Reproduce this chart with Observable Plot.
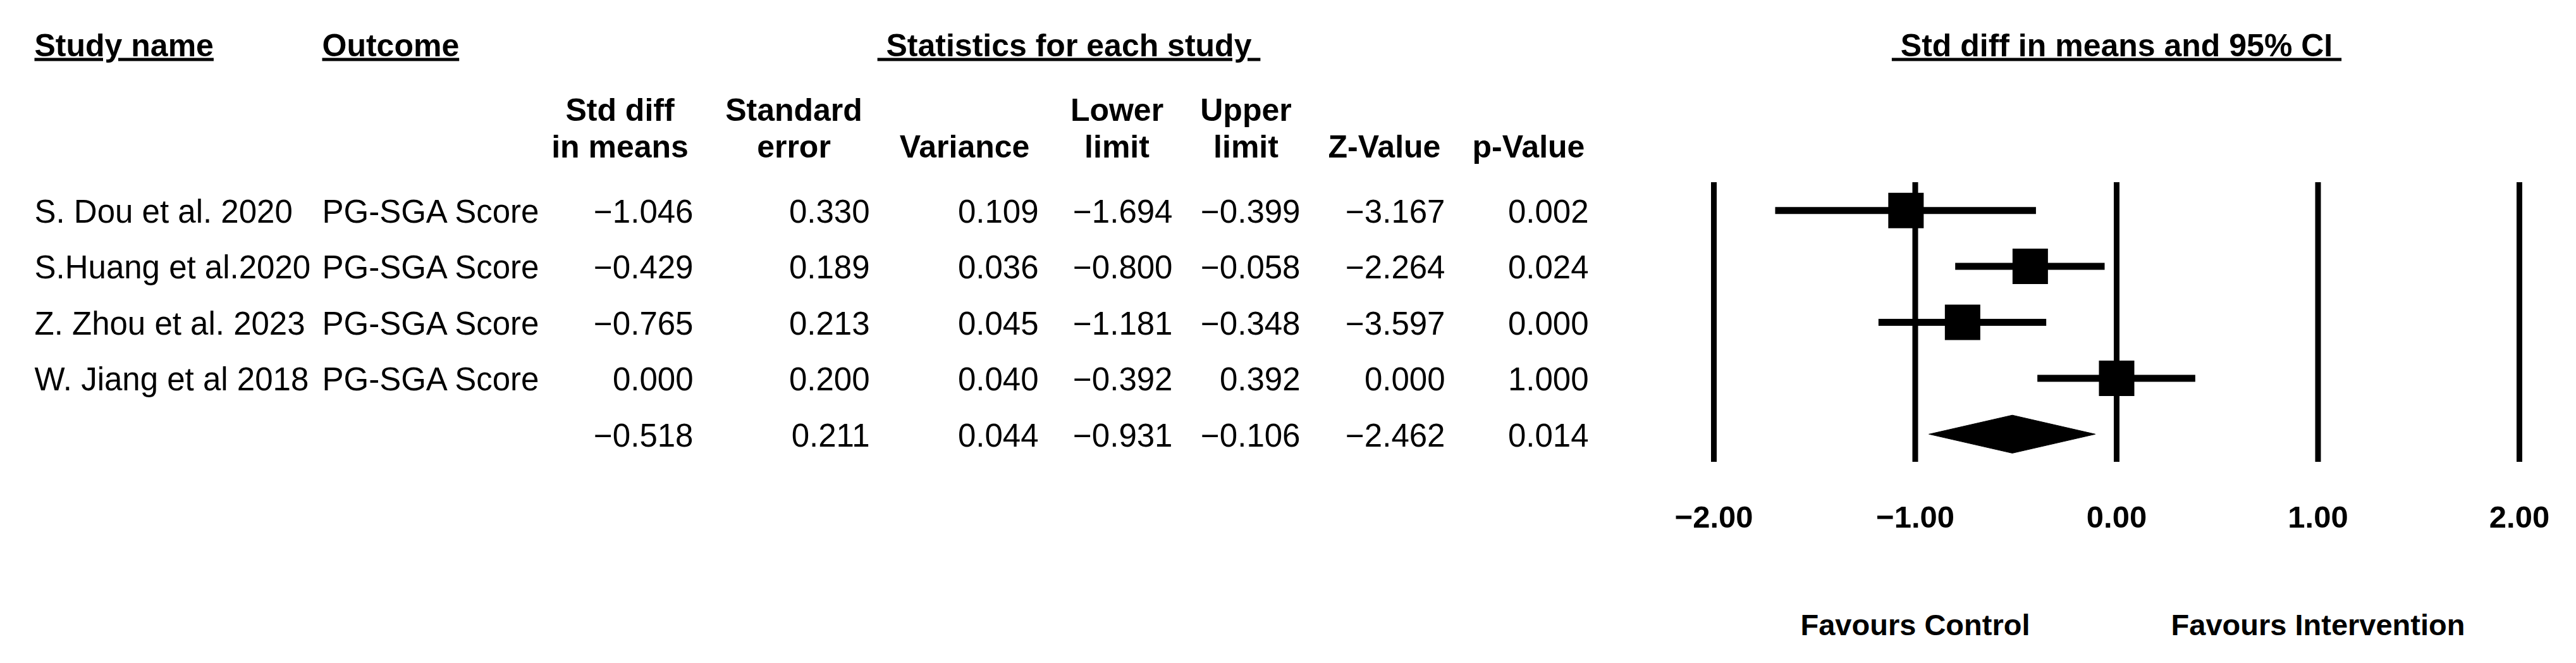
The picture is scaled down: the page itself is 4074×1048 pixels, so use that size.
<!DOCTYPE html>
<html>
<head>
<meta charset="utf-8">
<script src="https://cdn.jsdelivr.net/npm/d3@7"></script>
<script src="https://cdn.jsdelivr.net/npm/@observablehq/plot@0.6"></script>
<style>
  html, body { margin: 0; padding: 0; background: #ffffff; overflow: hidden; }
  #chart { width: 4074px; height: 1048px; }
</style>
</head>
<body>
<div id="chart"></div>
<script>
// ---------------- data ----------------
const studies  = ["S. Dou et al. 2020", "S.Huang et al.2020", "Z. Zhou et al. 2023", "W. Jiang et al 2018"];
const outcomes = ["PG-SGA Score", "PG-SGA Score", "PG-SGA Score", "PG-SGA Score"];
// last entry of each statistic is the pooled (summary) row
const stdDiff  = [-1.046, -0.429, -0.765, 0.000, -0.518];
const stdErr   = [0.330, 0.189, 0.213, 0.200, 0.211];
const variance = [0.109, 0.036, 0.045, 0.040, 0.044];
const lower    = [-1.694, -0.800, -1.181, -0.392, -0.931];
const upper    = [-0.399, -0.058, -0.348, 0.392, -0.106];
const zValue   = [-3.167, -2.264, -3.597, 0.000, -2.462];
const pValue   = [0.002, 0.024, 0.000, 1.000, 0.014];
const colHeaders = ["Std diff\nin means", "Standard\nerror", "Variance", "Lower\nlimit", "Upper\nlimit", "Z-Value", "p-Value"];
const topHeaders = ["Study name", "Outcome", "Statistics for each study"];
const ciHeader = "Std diff in means and 95% CI";
const xTicks = [-2, -1, 0, 1, 2];
const favourLabels = ["Favours Control", "Favours Intervention"];
const favourAt = [-1, 1];

// ---------------- layout ----------------
const W = 4074, H = 1048;
const FONT = "'Liberation Sans', Arial, Helvetica, sans-serif";
const frameTop = 288, frameBottom = 730;
const nameLeft = 54, outcomeLeft = 509;
const colRight  = [1096, 1375, 1642, 1854, 2056, 2285, 2512];
const colCenter = [980, 1255, 1525, 1766, 1970, 2189, 2417];
const statsCenter = 1690;

const columns = [stdDiff, stdErr, variance, lower, upper, zValue, pValue];
const rowIdx = d3.range(stdDiff.length);
const studyIdx = d3.range(studies.length);
const fmt3 = d3.format(".3f");
const fmt2 = d3.format(".2f");
const NB = "\u00a0";

const marks = [];

// vertical reference lines
marks.push(Plot.ruleX(xTicks, {x: d => d, stroke: "black", strokeWidth: 9}));
// confidence intervals
marks.push(Plot.ruleY(studyIdx, {y: i => i + 1, x1: i => lower[i], x2: i => upper[i], stroke: "black", strokeWidth: 11}));
// point estimates
marks.push(Plot.dot(studyIdx, {x: i => stdDiff[i], y: i => i + 1, symbol: "square", r: 31.6, fill: "black", stroke: null}));
// pooled diamond
const s = studies.length, sy = s + 1, half = 0.34;
const diamond = [
  [lower[s], sy], [stdDiff[s], sy - half], [upper[s], sy], [stdDiff[s], sy + half], [lower[s], sy]
];
marks.push(Plot.line(diamond, {x: d => d[0], y: d => d[1], fill: "black", stroke: "black", strokeWidth: 1}));

// x axis
marks.push(Plot.axisX(xTicks, {anchor: "bottom", tickSize: 0, tickPadding: 69, tickFormat: fmt2,
  fontSize: 49, fontWeight: "bold", label: null}));
// favours labels
marks.push(Plot.text(favourLabels, {x: (d, i) => favourAt[i], frameAnchor: "bottom", lineAnchor: "bottom",
  dy: 273, text: d => d, fontSize: 47, fontWeight: "bold", textAnchor: "middle"}));
// CI header
marks.push(Plot.text([ciHeader], {x: () => 0, frameAnchor: "top", lineAnchor: "bottom", dy: -200,
  text: d => NB + d + NB, fontSize: 50, fontWeight: "bold", textAnchor: "middle", ariaDescription: "underlined"}));

// table top headers
marks.push(Plot.text([topHeaders[0]], {frameAnchor: "top-left", dx: nameLeft, dy: -200, lineAnchor: "bottom",
  textAnchor: "start", text: d => d, fontSize: 50, fontWeight: "bold", ariaDescription: "underlined"}));
marks.push(Plot.text([topHeaders[1]], {frameAnchor: "top-left", dx: outcomeLeft, dy: -200, lineAnchor: "bottom",
  textAnchor: "start", text: d => d, fontSize: 50, fontWeight: "bold", ariaDescription: "underlined"}));
marks.push(Plot.text([topHeaders[2]], {frameAnchor: "top-left", dx: statsCenter, dy: -200, lineAnchor: "bottom",
  textAnchor: "middle", text: d => NB + d + NB, fontSize: 50, fontWeight: "bold", ariaDescription: "underlined"}));

// column headers
colHeaders.forEach((h, j) => {
  marks.push(Plot.text([h], {frameAnchor: "top-left", dx: colCenter[j], dy: -40, lineAnchor: "bottom",
    lineHeight: 1.16, textAnchor: "middle", text: d => d, fontSize: 50, fontWeight: "bold"}));
});

// study names and outcomes
marks.push(Plot.text(studyIdx, {frameAnchor: "left", dx: nameLeft, y: i => i + 1, dy: 3, lineAnchor: "middle",
  textAnchor: "start", text: i => studies[i], fontSize: 51}));
marks.push(Plot.text(studyIdx, {frameAnchor: "left", dx: outcomeLeft, y: i => i + 1, dy: 3, lineAnchor: "middle",
  textAnchor: "start", text: i => outcomes[i], fontSize: 51}));
// statistic columns
columns.forEach((col, j) => {
  marks.push(Plot.text(rowIdx, {frameAnchor: "left", dx: colRight[j], y: i => i + 1, dy: 3, lineAnchor: "middle",
    textAnchor: "end", text: i => fmt3(col[i]), fontSize: 51}));
});

const chart = Plot.plot({
  width: W, height: H,
  marginTop: frameTop, marginBottom: H - frameBottom, marginLeft: 0, marginRight: 0,
  x: {domain: [-2, 2], range: [2710, 3984]},
  y: {domain: [0.5, 5.5], range: [frameTop, frameBottom], axis: null},
  style: {fontFamily: FONT, fontSize: "50px", color: "black", background: "white", overflow: "visible"},
  marks
});

d3.select(chart).selectAll('g[aria-description="underlined"] text')
  .style("text-decoration", "underline")
  .style("text-decoration-thickness", "5px")
  .style("text-underline-offset", "7px");

document.getElementById("chart").appendChild(chart);
</script>
</body>
</html>
